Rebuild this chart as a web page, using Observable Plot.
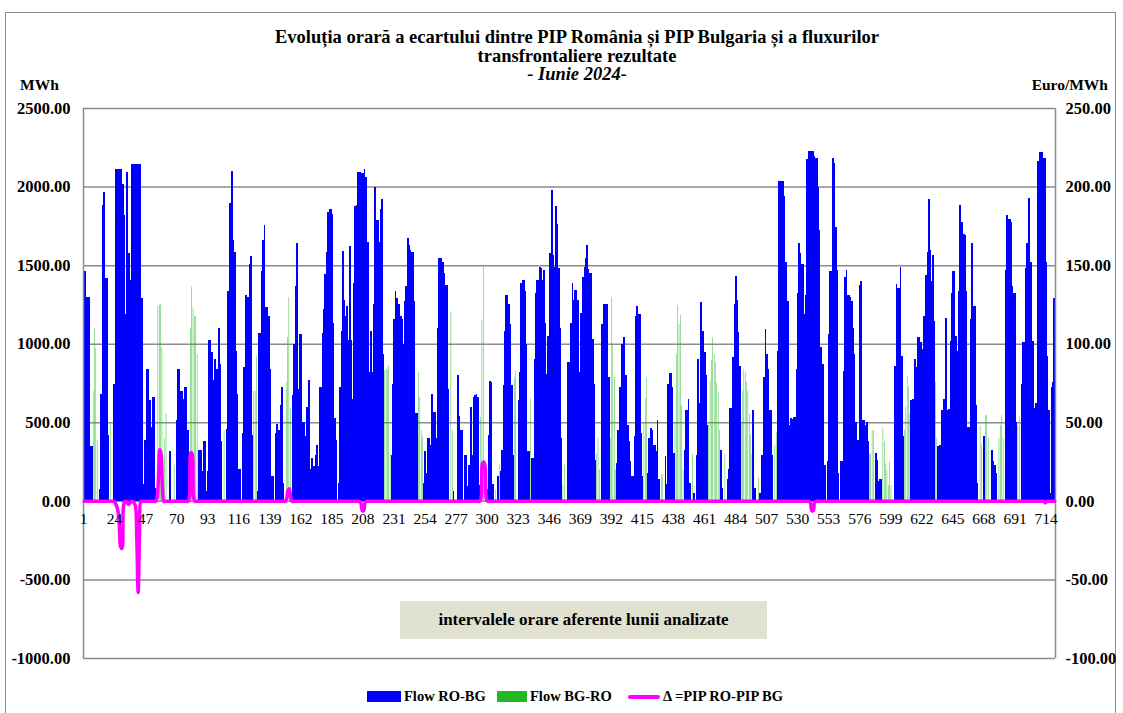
<!DOCTYPE html>
<html>
<head>
<meta charset="utf-8">
<script src="https://cdn.jsdelivr.net/npm/d3@7"></script>
<script src="https://cdn.jsdelivr.net/npm/@observablehq/plot@0.6"></script>
<style>
  body { margin: 0; background: #fff; }
  #wrap { position: relative; width: 1123px; height: 713px; overflow: hidden; font-family: "Liberation Serif", "Times New Roman", serif; }
  #frame { position: absolute; left: 5px; top: 12px; width: 1111px; height: 760px; border: 1.5px solid #8c8c8c; box-sizing: border-box; }
  #title { position: absolute; left: 0; top: 28px; width: 1154px; text-align: center; font-weight: bold; font-size: 18.5px; line-height: 18.5px; color: #000; }
  .unit { position: absolute; top: 76px; font-weight: bold; font-size: 15.5px; }
  #chart { position: absolute; left: 0; top: 95px; }
  #note { position: absolute; left: 400px; top: 601px; width: 367px; height: 38px; background: #e1e1d2; display: flex; align-items: center; justify-content: center; font-weight: bold; font-size: 17px; }
  .leg { position: absolute; top: 688px; font-weight: bold; font-size: 14.5px; display: flex; align-items: center; white-space: nowrap; }
  .sw { display: inline-block; width: 34px; height: 11px; margin-right: 3px; }
  .ln { display: inline-block; width: 32px; height: 4px; margin-right: 3px; background: #ff00ff; border-radius: 2px; }
</style>
</head>
<body>
<div id="wrap">
  <div id="frame"></div>
  <div id="title">Evoluția orară a ecartului dintre PIP România și PIP Bulgaria și a fluxurilor<br>transfrontaliere rezultate<br><i>- Iunie 2024-</i></div>
  <div class="unit" style="left:20px">MWh</div>
  <div class="unit" style="right:15px">Euro/MWh</div>
  <div id="chart"></div>
  <div id="note">intervalele orare aferente lunii analizate</div>
  <div class="leg" style="left:367px"><span class="sw" style="background:#0000ff"></span>Flow RO-BG</div>
  <div class="leg" style="left:497px"><span class="sw" style="background:#22b822;width:30px"></span>Flow BG-RO</div>
  <div class="leg" style="left:628px"><span class="ln"></span>Δ =PIP RO-PIP BG</div>
</div>
<script>
// Hourly flow RO->BG (MWh), hours 1..720 (June 2024), one row per day
const flowRoBg = [
  830,1464,1296,1296,1296,347,347,0,0,0,0,0,73,683,1880,1963,1418,1418,420,0,0,0,745,745,
  2115,2115,2115,2115,2115,2016,1817,1187,2090,1575,1575,1407,2146,2146,2146,2146,2146,2146,2146,1292,105,390,390,840,
  840,640,470,660,660,84,0,0,0,0,0,0,0,0,0,0,315,0,0,0,0,515,840,840,
  700,700,650,725,725,450,0,0,0,0,0,0,0,325,325,325,190,378,378,60,190,1023,1023,945,
  767,903,840,840,1098,870,378,0,0,0,460,1338,1896,1896,2100,1663,1585,955,680,200,200,0,430,850,
  1312,1296,1296,1505,1558,420,0,0,0,63,1070,1070,1464,1660,1757,1233,1233,1176,840,158,158,0,435,490,
  451,451,609,725,115,0,0,0,0,0,0,672,998,1369,1638,714,1060,1060,504,504,410,600,600,770,
  200,273,220,220,294,357,220,725,725,1070,1218,1443,1585,1838,1858,1858,1827,1134,525,388,0,115,725,1082,
  1590,1281,1176,1239,1023,1623,1023,651,1386,1875,1880,2094,2094,2094,2085,2085,2110,2064,1649,1649,819,1082,819,1250,
  2000,1785,1785,1649,1858,1920,935,0,0,0,0,0,294,745,1155,1334,1292,1250,1250,1176,1155,998,1271,1365,
  1670,1628,1596,1585,1585,1275,557,557,0,0,0,0,115,315,180,400,400,357,680,567,567,400,1100,1548,
  1548,1548,1522,1449,1375,1375,714,0,0,0,63,0,0,798,540,450,450,0,294,294,95,231,231,600,
  294,660,672,680,660,100,0,0,0,0,0,73,420,762,756,105,0,0,0,158,0,190,325,735,
  1082,1312,1312,1250,1124,735,294,0,0,0,640,819,1386,1407,1407,1334,998,315,315,0,273,273,903,1323,
  1407,1407,1491,1480,1407,1470,1134,808,1050,1575,1575,1980,1565,1491,1875,1764,1480,1102,400,0,0,0,0,882,
  882,1134,1386,1281,1344,1344,1281,819,1197,1197,1422,1491,1544,1628,1476,1449,1449,1029,745,262,0,0,0,0,
  1124,1250,1250,1250,1250,788,0,0,0,0,0,241,451,725,725,998,1044,798,798,483,378,252,158,158,
  410,1176,1239,1191,1191,430,158,0,0,0,180,400,462,451,357,357,315,515,136,0,0,0,0,283,
  105,745,812,812,725,304,0,0,0,0,0,0,0,325,578,578,651,115,0,0,52,0,294,903,
  620,1266,1082,1082,945,798,483,0,0,0,0,0,0,0,0,0,325,84,0,0,0,136,200,588,
  588,918,1250,1432,1281,1075,861,0,0,0,0,0,0,0,0,0,578,84,0,0,0,50,294,294,
  788,1092,935,840,578,578,294,0,0,0,955,2037,2037,2037,2037,1943,1522,1271,1271,483,525,519,536,536,
  840,1323,1638,1575,1505,1505,1187,1312,2173,2226,2226,2226,2226,2194,2184,2184,1995,1722,976,871,871,231,0,252,
  1060,1460,1460,2184,2152,1743,1470,178,0,252,252,829,1422,1470,1312,1312,1296,1270,1102,935,504,388,388,1376,
  1400,515,515,483,504,378,0,0,0,0,0,304,262,126,136,136,0,0,0,0,0,0,0,0,
  0,861,1380,1355,1355,1491,924,410,0,0,0,0,0,640,651,651,903,850,1040,1040,1008,966,1176,1176,
  1439,1585,1922,1596,1397,1565,1145,0,0,347,357,357,578,651,651,1166,578,582,1019,1323,1460,1460,1050,955,
  1334,1884,1775,1775,1701,1691,1334,473,473,1155,1638,1239,1239,609,115,0,0,0,0,410,0,0,0,0,
  0,325,252,231,180,0,0,0,0,0,0,1470,1817,1792,1792,1775,1365,1323,1323,504,0,0,0,745,
  1008,1008,1485,1638,1926,1522,1522,1019,588,620,620,2163,2220,2220,2220,2184,2184,1522,924,578,52,725,756,1292
];

// Flow BG->RO (MWh): hours where it is visible, and its values (0 in all other hours)
const flowBgRoHours = [8,9,10,11,21,56,57,58,59,61,62,68,80,81,82,83,84,85,105,127,128,129,151,152,153,154,
  224,225,226,227,228,249,250,251,252,273,274,295,296,297,306,309,320,321,332,356,357,381,382,383,
  391,392,393,394,395,416,417,418,429,430,439,440,441,442,443,444,445,452,464,465,466,467,468,469,470,471,472,476,
  488,489,490,491,492,493,494,495,496,501,513,514,583,584,585,586,593,594,595,596,597,598,599,
  609,610,611,612,613,632,633,665,666,669,670,671,679,680,681,682,693,694];
const flowBgRoValues = [700,1100,975,388,493,1240,1250,1250,975,400,556,230,1100,1365,1230,1175,1175,935,450,700,700,925,756,1043,1296,590,
  830,840,840,860,300,820,660,450,410,1207,450,535,1155,1500,73,231,788,830,651,100,230,300,400,200,
  400,1296,1000,788,200,500,651,788,168,168,500,935,1245,1124,1186,609,200,300,483,767,900,1040,935,882,750,693,451,300,
  500,703,840,819,760,700,556,420,300,150,357,441,300,300,450,450,462,380,240,200,100,250,100,
  451,600,798,725,556,756,400,480,360,546,546,400,400,483,546,400,483,535];

// Δ = PIP RO - PIP BG (Euro/MWh): hours where it differs from 0, and its values
const deltaHours = [24,25,26,27,28,29,30,33,34,35,38,39,40,41,42,55,56,57,58,59,79,80,81,82,151,152,153,154,206,207,208,209,295,296,297,298,299,539,540,541,542,713];
const deltaValues = [-1,-3,-6,-15,-29,-30,-4,-1,-2,-1,-1,-3,-25,-58,-20,2,15,33,30,8,3,31,30,3,2,7,8,2,-1,-6,-6,-1,2,24,25,22,1,-1,-6,-6,-1,-1];

const xTickLabels = [1,24,47,70,93,116,139,162,185,208,231,254,277,300,323,346,369,392,415,438,461,484,507,530,553,576,599,622,645,668,691,714];
const yTicksMWh = [-1000,-500,0,500,1000,1500,2000,2500];
const hoursInMonth = 720;

const rows = flowRoBg.map((v, i) => ({h: i + 1, ro: v, bg: 0, d: 0}));
flowBgRoHours.forEach((h, i) => { rows[h - 1].bg = flowBgRoValues[i]; });
deltaHours.forEach((h, i) => { rows[h - 1].d = deltaValues[i]; });

const euroScale = 10; // right axis: 250 Euro/MWh aligns with 2500 MWh

const chart = Plot.plot({
  width: 1123,
  height: 600,
  marginTop: 13,
  marginBottom: 37,
  marginLeft: 83,
  marginRight: 68,
  style: {fontFamily: "'Liberation Serif', 'Times New Roman', serif", fontSize: "15px", color: "#000", background: "transparent"},
  x: {type: "linear", domain: [1, hoursInMonth + 1], axis: null},
  y: {domain: [-1000, 2500], axis: null},
  marks: [
    Plot.ruleY(yTicksMWh, {stroke: "#8c8c8c", strokeWidth: 1.5}),
    Plot.rectY(rows, {x1: "h", x2: d => d.h + 1, y1: 0, y2: "bg", fill: "#22b822", insetLeft: 0.45, insetRight: 0.45}),
    Plot.rectY(rows, {x1: "h", x2: d => d.h + 1, y1: 0, y2: "ro", fill: "#0000ff", insetLeft: -0.2, insetRight: -0.2, shapeRendering: "crispEdges"}),
    Plot.ruleX([1, hoursInMonth + 1], {stroke: "#8c8c8c", strokeWidth: 1.5}),
    Plot.lineY(rows, {x: d => d.h + 0.5, y: d => d.d * euroScale, stroke: "#ff00ff", strokeWidth: 3.5, curve: "catmull-rom"}),
    Plot.axisY(yTicksMWh, {anchor: "left", tickSize: 0, tickPadding: 13, tickFormat: d => d.toFixed(2), fontWeight: "bold", fontSize: 16.5}),
    Plot.axisY(yTicksMWh, {anchor: "right", tickSize: 0, tickPadding: 10, tickFormat: d => (d / euroScale).toFixed(2), fontWeight: "bold", fontSize: 16.5}),
    Plot.text(xTickLabels, {x: d => d, y: 0, dy: 18, text: d => String(d), fontSize: 15.5, fill: "#000"})
  ]
});
document.getElementById("chart").appendChild(chart);
</script>
</body>
</html>
